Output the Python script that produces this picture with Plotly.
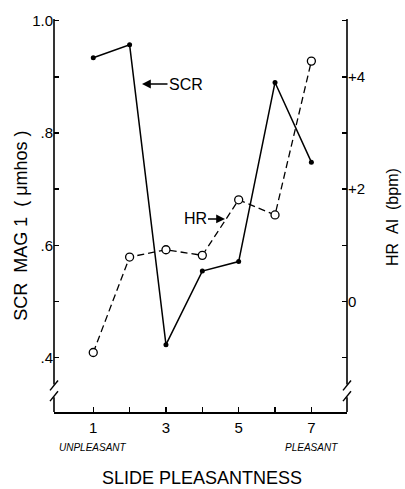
import plotly.graph_objects as go

# Data
pleasantness = [1, 2, 3, 4, 5, 6, 7]
scr_mag = [0.934, 0.957, 0.423, 0.554, 0.571, 0.890, 0.748]
hr_ai = [-0.91, 0.79, 0.92, 0.82, 1.81, 1.54, 4.28]

x_tickvals = [1, 2, 3, 4, 5, 6, 7]
x_ticktext = ["1", "", "3", "", "5", "", "7"]
yl_tickvals = [0.4, 0.5, 0.6, 0.7, 0.8, 0.9, 1.0]
yl_ticktext = [".4", "", ".6", "", ".8", "", "1.0"]
yr_tickvals = [-1, 0, 1, 2, 3, 4, 5]
yr_ticktext = ["", "0", "", "+2", "", "+4", ""]

W, H = 405, 489
L, R, T, B = 54, 347, 13, 412  # plot area in pixels

def px(xp):
    return (xp - L) / (R - L)

def py(yp):
    return (B - yp) / (B - T)

FONT = "Liberation Sans, Arial, sans-serif"

fig = go.Figure()
fig.add_trace(go.Scatter(
    x=pleasantness, y=scr_mag, mode="lines+markers", name="SCR",
    line=dict(color="black", width=1.5),
    marker=dict(symbol="circle", size=5, color="black"),
    yaxis="y", showlegend=False))
fig.add_trace(go.Scatter(
    x=pleasantness, y=hr_ai, mode="lines+markers", name="HR",
    line=dict(color="black", width=1.3, dash="7px,4px"),
    marker=dict(symbol="circle", size=8, color="white",
                line=dict(color="black", width=1.3)),
    yaxis="y2", showlegend=False))

shapes = []
lw = 1.6
# left axis with break
shapes.append(dict(type="line", xref="paper", yref="paper", x0=0, x1=0,
                   y0=py(384), y1=1, line=dict(color="black", width=lw)))
shapes.append(dict(type="line", xref="paper", yref="paper", x0=0, x1=0,
                   y0=0, y1=py(397), line=dict(color="black", width=lw)))
# right axis with break
shapes.append(dict(type="line", xref="paper", yref="paper", x0=1, x1=1,
                   y0=py(384), y1=1, line=dict(color="black", width=lw)))
shapes.append(dict(type="line", xref="paper", yref="paper", x0=1, x1=1,
                   y0=0, y1=py(397), line=dict(color="black", width=lw)))
# break slashes
for cx in (L, R):
    for cy in (385, 396):
        shapes.append(dict(type="line", xref="paper", yref="paper",
                           x0=px(cx - 4), y0=py(cy + 5),
                           x1=px(cx + 4), y1=py(cy - 5),
                           line=dict(color="black", width=1.4)))

def ann(text, x, y, size, xref="paper", **kw):
    d = dict(text=text, xref=xref, yref="paper", x=x, y=y,
             xanchor="center", yanchor="middle", showarrow=False,
             font=dict(family=FONT, size=size, color="black"))
    d.update(kw)
    return d

annotations = [
    ann("SCR", px(142), py(79), 16, showarrow=True, ax=44, ay=0,
        arrowhead=2, arrowsize=1.1, arrowwidth=1.6, arrowcolor="black"),
    ann("HR", px(225), py(216), 16, showarrow=True, ax=-30, ay=0,
        arrowhead=2, arrowsize=1.1, arrowwidth=1.6, arrowcolor="black"),
    ann("<i>UNPLEASANT</i>", 1, py(448), 10, xref="x"),
    ann("<i>PLEASANT</i>", 7, py(448), 10, xref="x"),
    ann("SLIDE PLEASANTNESS", px(202), py(479), 18),
    ann("SCR\u00a0\u00a0MAG\u00a01\u00a0\u00a0(\u00a0μmhos\u00a0)", px(21), py(223), 18,
        textangle=-90),
    ann("HR\u00a0\u00a0AI\u00a0\u00a0(bpm)", px(393), py(214), 16, textangle=-90),
]

fig.update_layout(
    width=W, height=H,
    margin=dict(l=L, r=W - R, t=T, b=H - B, pad=0),
    paper_bgcolor="white", plot_bgcolor="white",
    font=dict(family=FONT, size=14, color="black"),
    xaxis=dict(range=[-0.08, 7.98], tickvals=x_tickvals, ticktext=x_ticktext,
               ticks="inside", ticklen=5, tickwidth=1.4, tickcolor="black",
               showline=True, linecolor="black", linewidth=lw,
               showgrid=False, zeroline=False, ticklabelstandoff=1,
               tickfont=dict(size=15)),
    yaxis=dict(range=[0.303, 1.003], tickvals=yl_tickvals, ticktext=yl_ticktext,
               ticks="inside", ticklen=5, tickwidth=1.4, tickcolor="black",
               showline=False, showgrid=False, zeroline=False,
               tickfont=dict(size=15)),
    yaxis2=dict(range=[-1.97, 5.03], tickvals=yr_tickvals, ticktext=yr_ticktext,
                overlaying="y", side="right",
                ticks="inside", ticklen=5, tickwidth=1.4, tickcolor="black",
                showline=False, showgrid=False, zeroline=False,
                tickfont=dict(size=15)),
    shapes=shapes,
    annotations=annotations,
)

fig.write_html("out.html",
               config={"displayModeBar": False, "staticPlot": True},
               post_script="document.body.style.margin='0';document.body.style.overflow='hidden';")
